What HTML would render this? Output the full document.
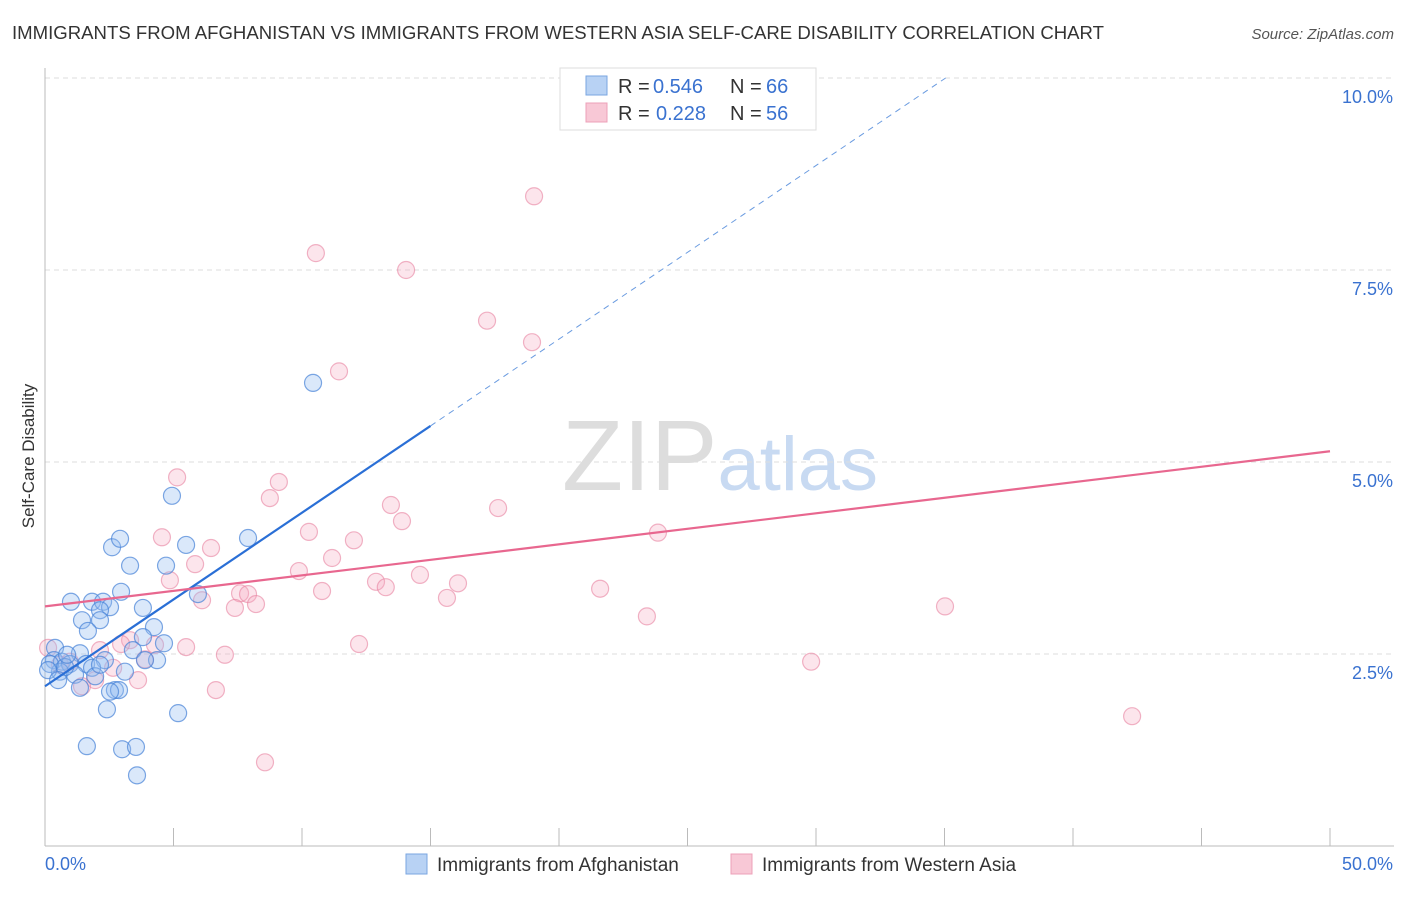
<!DOCTYPE html>
<html><head><meta charset="utf-8"><style>
body{margin:0;background:#fff;font-family:"Liberation Sans",sans-serif}
svg text{font-family:"Liberation Sans",sans-serif}
</style></head><body>
<svg id="chart" width="1406" height="892" xmlns="http://www.w3.org/2000/svg">
<text x="12" y="39" font-size="18" fill="#333" textLength="1092" lengthAdjust="spacingAndGlyphs">IMMIGRANTS FROM AFGHANISTAN VS IMMIGRANTS FROM WESTERN ASIA SELF-CARE DISABILITY CORRELATION CHART</text>
<text x="1394" y="39" font-size="15" fill="#555" text-anchor="end" font-style="italic">Source: ZipAtlas.com</text>
<text x="720" y="490" font-size="100" text-anchor="middle" fill="#ddd" font-family="Liberation Serif">ZIP<tspan fill="#c8daf2" font-family="Liberation Sans" font-size="76">atlas</tspan></text>
<text transform="translate(34,456) rotate(-90)" font-size="17" fill="#333" text-anchor="middle">Self-Care Disability</text>
<g id="grid"></g><g id="pts"></g><g id="lines"></g>
<g>
<rect x="560" y="68" width="256" height="62" fill="#fff" stroke="#ddd"/>
<rect x="586" y="76" width="21" height="19" fill="#b8d2f4" stroke="#7aa6e0"/>
<rect x="586" y="103" width="21" height="19" fill="#f8c8d6" stroke="#eda0b8"/>
<text x="618" y="93" font-size="20" fill="#333">R =</text>
<text x="653" y="93" font-size="20" fill="#3a72d0">0.546</text>
<text x="730" y="93" font-size="20" fill="#333">N =</text>
<text x="766" y="93" font-size="20" fill="#3a72d0">66</text>
<text x="618" y="120" font-size="20" fill="#333">R =</text>
<text x="656" y="120" font-size="20" fill="#3a72d0">0.228</text>
<text x="730" y="120" font-size="20" fill="#333">N =</text>
<text x="766" y="120" font-size="20" fill="#3a72d0">56</text>
</g>
<g>
<rect x="406" y="854" width="21" height="20" fill="#b8d2f4" stroke="#7aa6e0"/>
<text x="437" y="871" font-size="19" fill="#333">Immigrants from Afghanistan</text>
<rect x="731" y="854" width="21" height="20" fill="#f8c8d6" stroke="#eda0b8"/>
<text x="762" y="871" font-size="19" fill="#333">Immigrants from Western Asia</text>
</g>
</svg>
<script>
const yTicks=[2.5,5,7.5,10];
const yTickLabels=["2.5%","5.0%","7.5%","10.0%"];
const xTicks=[0,5,10,15,20,25,30,35,40,45,50];
const xLabels=["0.0%","50.0%"];
const afgX=[10.43,4.94,5.49,7.90,2.61,2.92,3.31,4.71,2.96,1.01,1.83,2.26,2.53,2.14,3.81,1.44,2.14,1.67,4.24,3.81,4.63,5.95,0.39,1.36,2.33,3.42,4.36,3.89,0.35,0.66,0.97,1.60,1.83,0.58,1.17,1.95,3.11,1.36,2.72,2.88,2.53,2.41,5.18,1.63,3.00,3.54,3.58,0.19,0.78,0.12,0.51,2.14,0.86];
const afgY=[6.03,4.56,3.92,4.01,3.89,4.00,3.65,3.65,3.31,3.18,3.18,3.18,3.11,3.07,3.10,2.94,2.94,2.80,2.85,2.72,2.64,3.28,2.58,2.51,2.42,2.55,2.42,2.42,2.42,2.40,2.37,2.37,2.32,2.27,2.23,2.21,2.27,2.06,2.03,2.03,2.01,1.78,1.73,1.30,1.26,1.29,0.92,2.37,2.33,2.29,2.16,2.36,2.49];
const waX=[19.03,10.54,14.05,17.20,18.95,11.44,5.14,9.10,8.75,13.46,17.63,13.89,10.27,23.85,4.55,12.02,6.46,11.17,5.84,9.88,14.59,4.86,12.88,16.07,13.26,10.78,21.60,7.59,7.90,15.64,6.11,8.21,7.39,35.02,23.42,12.22,3.31,5.49,7.00,4.28,2.96,3.89,29.81,2.65,3.62,1.95,1.44,6.65,8.56,42.30,0.12,0.97,0.58,2.14];
const waY=[8.46,7.72,7.50,6.84,6.56,6.18,4.80,4.74,4.53,4.44,4.40,4.23,4.09,4.08,4.02,3.98,3.88,3.75,3.67,3.58,3.53,3.46,3.44,3.42,3.37,3.32,3.35,3.29,3.28,3.23,3.20,3.15,3.10,3.12,2.99,2.63,2.68,2.59,2.49,2.62,2.63,2.43,2.40,2.32,2.16,2.16,2.08,2.03,1.09,1.69,2.58,2.40,2.36,2.55];
const afgTrend=[2.08,0.226];
const waTrend=[3.12,0.0404];
const sx=v=>45+v*25.7, sy=v=>846-v*76.8;
const NS="http://www.w3.org/2000/svg";
function mk(tag,attrs,parent){const e=document.createElementNS(NS,tag);for(const k in attrs)e.setAttribute(k,attrs[k]);parent.appendChild(e);return e;}
const grid=document.getElementById('grid'),pts=document.getElementById('pts'),lines=document.getElementById('lines');
yTicks.forEach((t,i)=>{
 const l=mk('line',{x1:45,x2:1394,y1:sy(t),y2:sy(t),stroke:'#ddd','stroke-dasharray':'5,4'},grid);
 
 
 const tx=mk('text',{x:1393,y:sy(t)+25,'font-size':18,fill:'#3a72d0','text-anchor':'end'},grid);tx.textContent=yTickLabels[i];
 
 
});
const ax=mk('line',{x1:45,x2:45,y1:68,y2:846,stroke:'#bbb'},grid);


const bx=mk('line',{x1:45,x2:1394,y1:846,y2:846,stroke:'#bbb'},grid);


xTicks.forEach(t=>{const l=mk('line',{x1:sx(t),x2:sx(t),y1:828,y2:846,stroke:'#bbb'},grid);
 
 });
const xl1=mk('text',{x:45,y:870,'font-size':18,fill:'#3a72d0'},grid);xl1.textContent=xLabels[0];


const xl2=mk('text',{x:1393,y:870,'font-size':18,fill:'#3a72d0','text-anchor':'end'},grid);xl2.textContent=xLabels[1];


waX.forEach((x,i)=>{const c=mk('circle',{cx:sx(x),cy:sy(waY[i]),r:8.5,fill:'rgba(244,170,192,0.3)',stroke:'rgba(232,130,160,0.6)','stroke-width':1.2},pts);
 
 });
afgX.forEach((x,i)=>{const c=mk('circle',{cx:sx(x),cy:sy(afgY[i]),r:8.5,fill:'rgba(150,190,240,0.35)',stroke:'rgba(70,130,215,0.7)','stroke-width':1.2},pts);
 
 });
const xEnd=(10-afgTrend[0])/afgTrend[1];
const l1=mk('line',{x1:sx(0),y1:sy(afgTrend[0]),x2:sx(15),y2:sy(afgTrend[0]+afgTrend[1]*15),stroke:'#2a6fd6','stroke-width':2.2},lines);


const l2=mk('line',{x1:sx(15),y1:sy(afgTrend[0]+afgTrend[1]*15),x2:sx(xEnd),y2:sy(10),stroke:'#6a9be0','stroke-width':1,'stroke-dasharray':'6,5'},lines);


const l3=mk('line',{x1:sx(0),y1:sy(waTrend[0]),x2:sx(50),y2:sy(waTrend[0]+waTrend[1]*50),stroke:'#e8678f','stroke-width':2.2},lines);


</script>
</body></html>
